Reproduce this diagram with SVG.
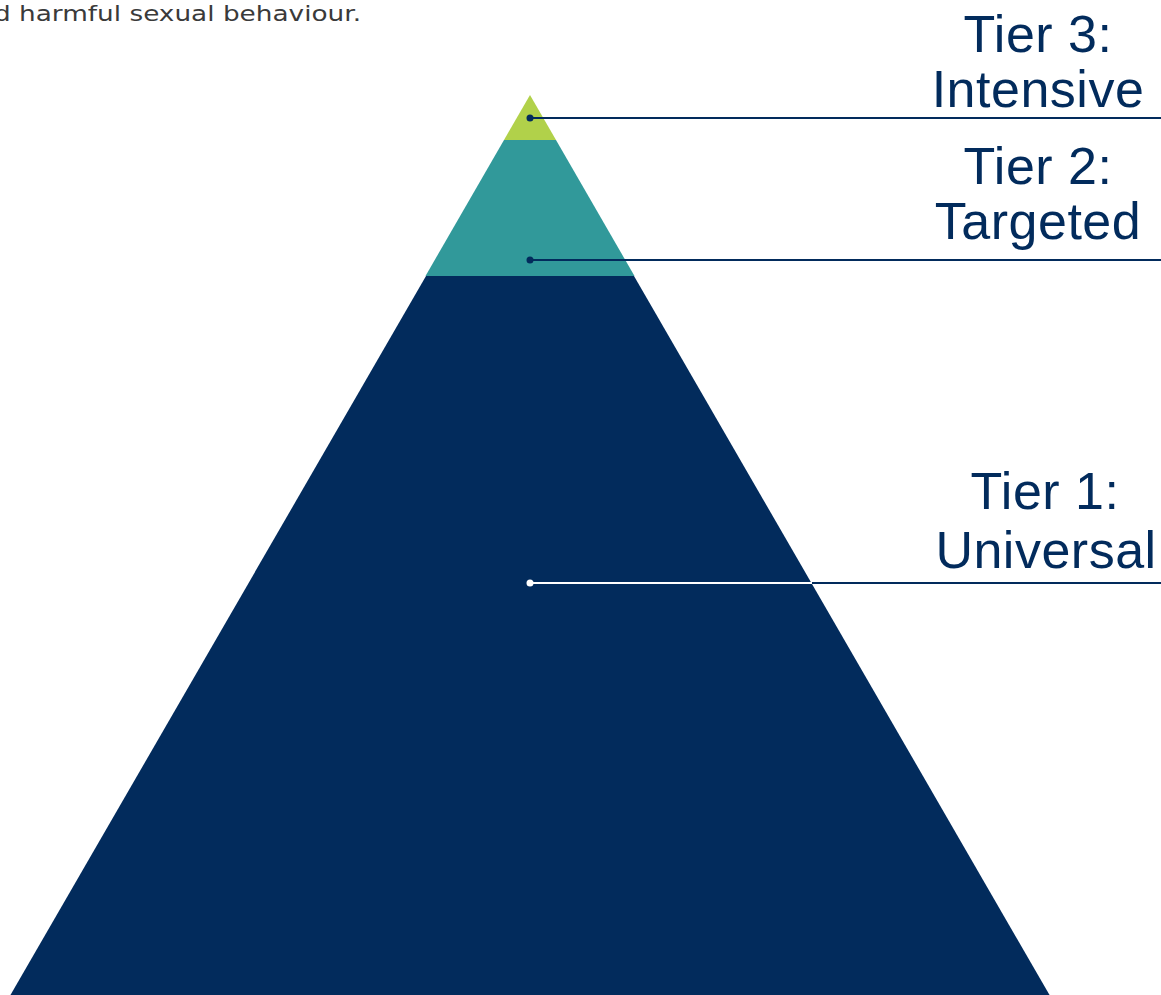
<svg xmlns="http://www.w3.org/2000/svg" width="1161" height="995" viewBox="0 0 1161 995">
<style>
.lbl{font-family:"Liberation Sans",Arial,sans-serif;font-size:52px;letter-spacing:0.5px;fill:#022b5c;text-anchor:middle}
.intro{font-family:"DejaVu Sans","Liberation Sans",sans-serif;font-size:21.5px;fill:#3a3a3a}
.ln{stroke:#022b5c;stroke-width:2;fill:none}
</style>
<rect width="1161" height="995" fill="#ffffff"/>
<text class="intro" x="-6" y="21" textLength="367" lengthAdjust="spacingAndGlyphs">d harmful sexual behaviour.</text>
<g id="tier1">
<polygon points="426,276 634,276 1053,1001 7,1001" fill="#022b5c"/>
</g>
<g id="tier2">
<polygon points="504,140 556,140 634.5,276 425.5,276" fill="#31999a"/>
</g>
<g id="tier3">
<polygon points="530,95 556,140 504,140" fill="#b1d14a"/>
</g>
<g id="connectors">
<line class="ln" x1="530" y1="118" x2="1161" y2="118"/>
<circle cx="530" cy="118" r="3.5" fill="#022b5c"/>
<line class="ln" x1="530" y1="260" x2="1161" y2="260"/>
<circle cx="530" cy="260" r="3.5" fill="#022b5c"/>
<line class="ln" x1="530" y1="583" x2="1161" y2="583"/>
<line x1="530" y1="583" x2="812" y2="583" stroke="#ffffff" stroke-width="2"/>
<circle cx="530" cy="583" r="3.5" fill="#ffffff"/>
</g>
<g id="label3">
<text class="lbl" x="1038" y="52">Tier 3:</text>
<text class="lbl" x="1038" y="107">Intensive</text>
</g>
<g id="label2">
<text class="lbl" x="1038" y="184">Tier 2:</text>
<text class="lbl" x="1038" y="239">Targeted</text>
</g>
<g id="label1">
<text class="lbl" x="1045" y="509">Tier 1:</text>
<text class="lbl" x="1046" y="568">Universal</text>
</g>
</svg>
